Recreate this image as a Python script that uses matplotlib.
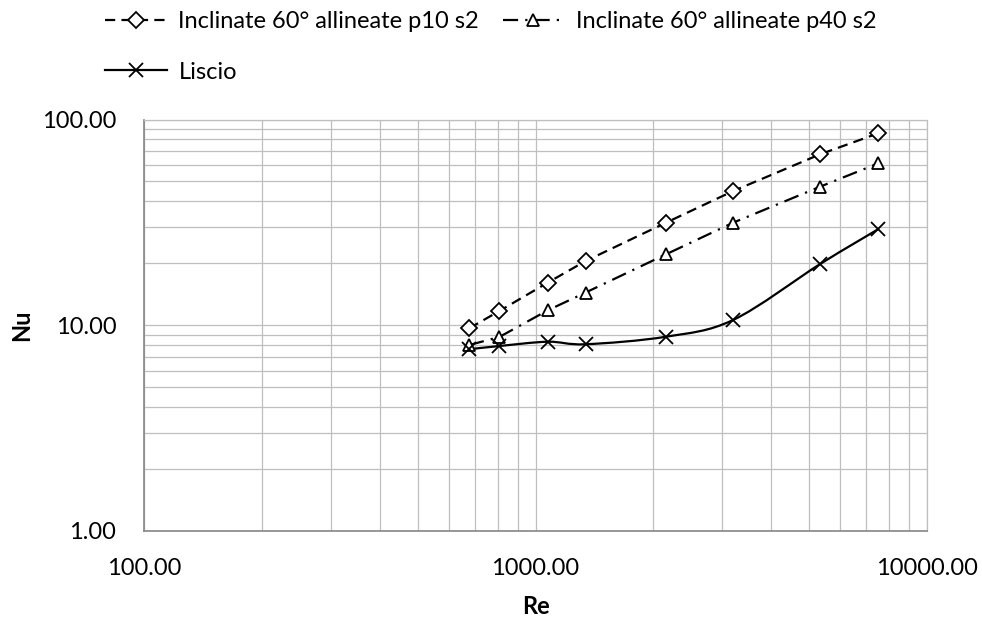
import numpy as np
import matplotlib.pyplot as plt
from matplotlib.path import Path
from matplotlib.patches import PathPatch
from matplotlib.lines import Line2D
from matplotlib.ticker import LogLocator, FuncFormatter, NullFormatter

# data
re_vals = [677, 808, 1075, 1343, 2155, 3200, 5330, 7510]
nu_p10 = [9.65, 11.7, 16.1, 20.5, 31.5, 44.9, 67.7, 85.7]
nu_p40 = [8.0, 8.75, 11.8, 14.4, 22.1, 31.5, 47.1, 61.2]
nu_liscio = [7.63, 7.91, 8.30, 8.07, 8.78, 10.6, 19.8, 29.3]

label_p10 = "Inclinate 60° allineate p10 s2"
label_p40 = "Inclinate 60° allineate p40 s2"
label_liscio = "Liscio"

FONT = "Lato"
FS = 17


def smooth_path(xs, ys):
    # excel style smoothed line: bezier through the points, built in log space
    lx = np.log10(xs)
    ly = np.log10(ys)
    n = len(lx)
    verts = [(xs[0], ys[0])]
    codes = [Path.MOVETO]
    for i in range(n - 1):
        i0 = max(i - 1, 0)
        i3 = min(i + 2, n - 1)
        c1 = (lx[i] + (lx[i + 1] - lx[i0]) / 6, ly[i] + (ly[i + 1] - ly[i0]) / 6)
        c2 = (lx[i + 1] - (lx[i3] - lx[i]) / 6, ly[i + 1] - (ly[i3] - ly[i]) / 6)
        for c in (c1, c2):
            verts.append((10 ** c[0], 10 ** c[1]))
        verts.append((xs[i + 1], ys[i + 1]))
        codes += [Path.CURVE4] * 3
    return Path(verts, codes)


fig = plt.figure(figsize=(9.82, 6.17), dpi=100)
ax = fig.add_axes([144 / 982, 1 - 530.7 / 617, (927 - 144) / 982, (530.7 - 119.5) / 617])
ax.set_xscale("log")
ax.set_yscale("log")
ax.set_xlim(100, 10000)
ax.set_ylim(1, 100)

grid_col = "#bfbfbf"
ax.xaxis.set_major_locator(LogLocator(base=10))
ax.yaxis.set_major_locator(LogLocator(base=10))
ax.xaxis.set_minor_locator(LogLocator(base=10, subs=np.arange(2, 10)))
ax.yaxis.set_minor_locator(LogLocator(base=10, subs=np.arange(2, 10)))
ax.xaxis.set_minor_formatter(NullFormatter())
ax.yaxis.set_minor_formatter(NullFormatter())
fmt = FuncFormatter(lambda v, p: "{:.2f}".format(v))
ax.xaxis.set_major_formatter(fmt)
ax.yaxis.set_major_formatter(fmt)
ax.grid(True, which="both", color=grid_col, linewidth=0.9)
ax.set_axisbelow(True)
ax.tick_params(which="both", length=0)
ax.tick_params(axis="x", pad=20)
ax.tick_params(axis="y", pad=20)
for lab in ax.get_xticklabels() + ax.get_yticklabels():
    lab.set_fontfamily(FONT)
    lab.set_fontsize(FS)
for s in ("left", "bottom"):
    ax.spines[s].set_color("#868686")
    ax.spines[s].set_linewidth(1.2)
for s in ("top", "right"):
    ax.spines[s].set_color(grid_col)
    ax.spines[s].set_linewidth(0.9)

lw = 1.6
dash_p10 = (0, (4.6, 2.8))
dash_p40 = (0, (6.8, 3.2, 1.0, 3.2))
mk = dict(markersize=9, markerfacecolor="white", markeredgecolor="black", markeredgewidth=1.3)

ax.plot(re_vals, nu_p10, color="black", lw=lw, linestyle=dash_p10, marker="D", **dict(mk, markersize=8))
ax.plot(re_vals, nu_p40, color="black", lw=lw, linestyle=dash_p40, marker="^", **mk)
ax.add_patch(PathPatch(smooth_path(re_vals, nu_liscio), fill=False, edgecolor="black", lw=lw))
ax.plot(re_vals, nu_liscio, linestyle="none", marker="x", color="black", markersize=10, markeredgewidth=1.3)

fig.text(536 / 982, 1 - 606 / 617, "Re", fontfamily=FONT, fontsize=FS, fontweight="bold",
         ha="center", va="center")
fig.text(22 / 982, 1 - 325 / 617, "Nu", fontfamily=FONT, fontsize=FS, fontweight="bold",
         ha="center", va="center", rotation=90)

h_p10 = Line2D([], [], color="black", lw=lw, linestyle=dash_p10, marker="D", **dict(mk, markersize=8))
h_p40 = Line2D([], [], color="black", lw=lw, linestyle=dash_p40, marker="^", **mk)
h_lis = Line2D([], [], color="black", lw=lw, marker="x", markersize=10, markeredgewidth=1.3)
leg = fig.legend([h_p10, h_lis, h_p40], [label_p10, label_liscio, label_p40],
                 ncol=2, loc="upper left", bbox_to_anchor=(84 / 982, 1 + 10 / 617),
                 frameon=False, numpoints=1, handlelength=2.6, handletextpad=0.5,
                 columnspacing=1.0, labelspacing=1.25,
                 prop={"family": FONT, "size": FS})

fig.savefig("out.png", dpi=100)
